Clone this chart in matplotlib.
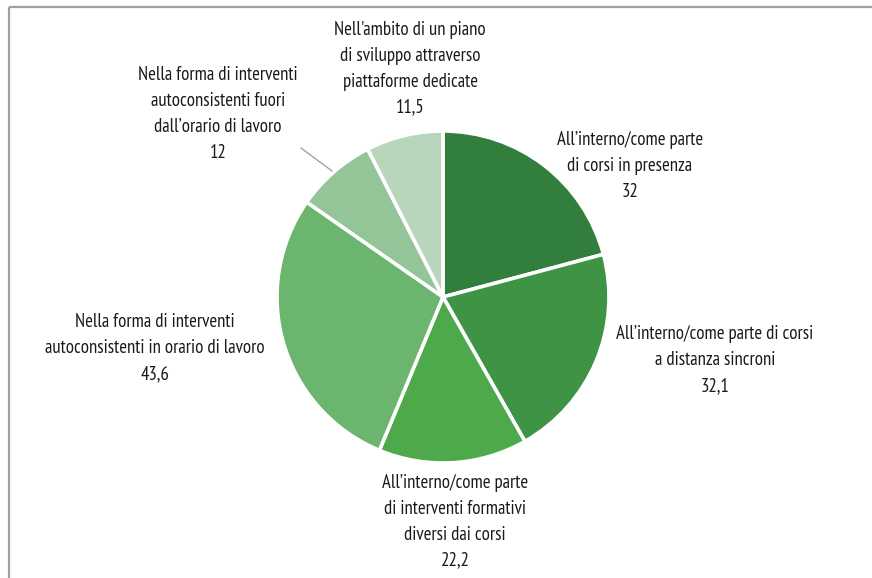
import matplotlib.pyplot as plt
from matplotlib import font_manager

# Font condensato: il primo disponibile fra quelli preferiti
nomi = {f.name for f in font_manager.fontManager.ttflist}
preferiti = ['PT Sans Narrow', 'Roboto Condensed', 'Asap Condensed', 'Archivo Narrow',
             'Barlow Semi Condensed', 'Fira Sans Condensed', 'DejaVu Sans']
famiglia = next(n for n in preferiti if n in nomi)
plt.rcParams['font.family'] = [famiglia, 'DejaVu Sans']

# Dati
etichette = [
    "All\u2019interno/come parte\ndi corsi in presenza",
    "All\u2019interno/come parte di corsi\na distanza sincroni",
    "All\u2019interno/come parte\ndi interventi formativi\ndiversi dai corsi",
    "Nella forma di interventi\nautoconsistenti in orario di lavoro",
    "Nella forma di interventi\nautoconsistenti fuori\ndall\u2019orario di lavoro",
    "Nell'ambito di un piano\ndi sviluppo attraverso\npiattaforme dedicate",
]
valori = [32, 32.1, 22.2, 43.6, 12, 11.5]
colori = ['#327e3c', '#3e9444', '#4ea94b', '#6bb56f', '#93c598', '#b8d6bb']

# Posizioni delle etichette (centro del testo, pixel dall'alto)
pos_etichette = [(630, 166), (715, 360), (455, 522), (155, 348), (218, 114), (410, 69)]

W, H = 872, 578
fig = plt.figure(figsize=(W / 100, H / 100), dpi=100)
ax = fig.add_axes([0, 0, 1, 1])

ax.pie(valori, colors=colori, startangle=90, counterclock=False,
       center=(443, H - 297), radius=166,
       wedgeprops=dict(edgecolor='white', linewidth=2.6))
ax.set_xlim(0, W)
ax.set_ylim(0, H)
ax.set_aspect('equal')
ax.axis('off')

# dimensione del testo: la riga più lunga deve occupare circa 196 px
r = fig.canvas.get_renderer()
prova = ax.text(0, 0, "All\u2019interno/come parte di corsi", fontsize=10)
fs = 10 * 196 / prova.get_window_extent(r).width
prova.set_fontsize(fs)
prova.set_text("lp")
h1 = prova.get_window_extent(r).height
prova.remove()

for testo, v, (x, y) in zip(etichette, valori, pos_etichette):
    num = f"{v:g}".replace('.', ',')
    ax.text(x, H - y, testo + "\n" + num, ha='center', va='center',
            fontsize=fs, color='#1a1a1a', linespacing=28 / h1)

# Linea di richiamo per la fetta piccola
ax.plot([301, 332], [H - 148, H - 171], color='#999999', lw=0.9)

# Cornice (lati sinistro e superiore)
ax.plot([8.5, 8.5], [0, H - 7], color='#a0a0a0', lw=1.6, solid_capstyle='butt')
ax.plot([8.5, W], [H - 7, H - 7], color='#a0a0a0', lw=1.6, solid_capstyle='butt')

fig.savefig('out.png', dpi=100)
